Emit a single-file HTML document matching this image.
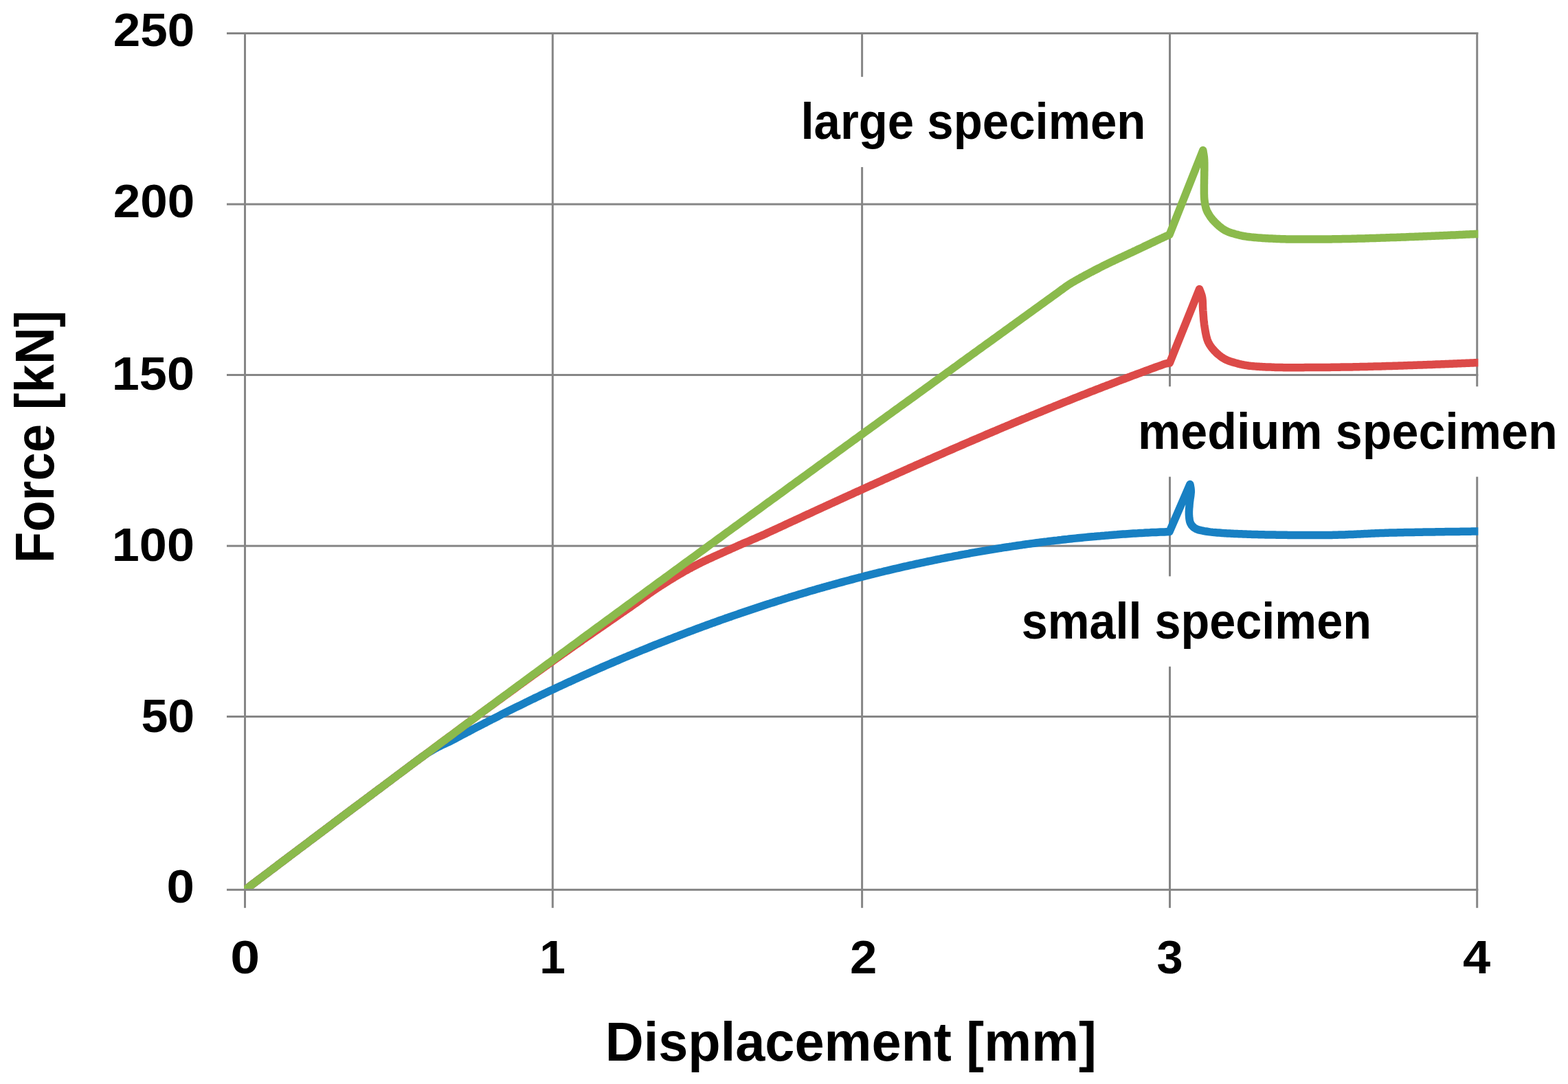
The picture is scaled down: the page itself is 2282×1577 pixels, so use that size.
<!DOCTYPE html><html><head><meta charset="utf-8"><title>Force-displacement chart</title><style>
html,body{margin:0;padding:0;background:#fff;}body{width:2282px;height:1577px;overflow:hidden;}
svg{display:block;}text{font-family:"Liberation Sans",Arial,sans-serif;font-weight:bold;fill:#000;}
</style></head><body>
<svg width="2282" height="1577" viewBox="0 0 2282 1577">
<rect x="0" y="0" width="2282" height="1577" fill="#fff"/>
<defs><clipPath id="pa"><rect x="355" y="40" width="1796.3" height="1253.0"/></clipPath></defs>
<g fill="#868686">
<rect x="330.0" y="47.00" width="1821.3" height="3.0"/>
<rect x="330.0" y="295.60" width="1821.3" height="3.0"/>
<rect x="330.0" y="544.00" width="1821.3" height="3.0"/>
<rect x="330.0" y="792.70" width="1821.3" height="3.0"/>
<rect x="330.0" y="1041.00" width="1821.3" height="3.0"/>
<rect x="330.0" y="1292.90" width="1821.3" height="3.0"/>
<rect x="355.00" y="47.0" width="3.0" height="1273.8"/>
<rect x="802.80" y="47.0" width="3.0" height="1273.8"/>
<rect x="1253.10" y="47.0" width="3.0" height="1273.8"/>
<rect x="1701.00" y="47.0" width="3.0" height="1273.8"/>
<rect x="2148.20" y="47.0" width="3.0" height="1273.8"/>
</g>
<rect x="1158.0" y="111.8" width="517.0" height="131.3" fill="#fff"/>
<rect x="1648.0" y="562.3" width="626.0" height="131.3" fill="#fff"/>
<rect x="1476.0" y="838.4" width="528.0" height="131.3" fill="#fff"/>
<g clip-path="url(#pa)" fill="none" stroke-width="11.5" stroke-linejoin="round" stroke-linecap="round">
<path d="M356.5 1294.7L359.5 1292.5L362.5 1290.2L365.5 1287.9L368.5 1285.6L371.5 1283.4L374.5 1281.1L377.5 1278.8L380.5 1276.6L383.5 1274.3L386.5 1272.0L389.5 1269.8L392.5 1267.5L395.5 1265.2L398.5 1263.0L401.5 1260.7L404.5 1258.4L407.5 1256.2L410.5 1253.9L413.5 1251.6L416.5 1249.4L419.5 1247.1L422.5 1244.8L425.5 1242.6L428.5 1240.3L431.5 1238.1L434.5 1235.8L437.5 1233.5L440.5 1231.3L443.5 1229.0L446.5 1226.8L449.5 1224.5L452.5 1222.2L455.5 1220.0L458.5 1217.7L461.5 1215.5L464.5 1213.2L467.5 1211.0L470.5 1208.7L473.5 1206.5L476.5 1204.2L479.5 1202.0L482.5 1199.7L485.5 1197.4L488.5 1195.2L491.5 1192.9L494.5 1190.7L497.5 1188.4L500.5 1186.2L503.5 1183.9L506.5 1181.7L509.5 1179.4L512.5 1177.2L515.5 1174.9L518.5 1172.7L521.5 1170.5L524.5 1168.2L527.5 1166.0L530.5 1163.7L533.5 1161.5L536.5 1159.2L539.5 1157.0L542.5 1154.7L545.5 1152.5L548.5 1150.2L551.5 1148.0L554.5 1145.8L557.5 1143.5L560.5 1141.3L563.5 1139.0L566.5 1136.8L569.5 1134.6L572.5 1132.3L575.5 1130.1L578.5 1127.8L581.5 1125.6L584.5 1123.4L587.5 1121.1L590.5 1118.9L593.5 1116.7L596.5 1114.4L599.5 1112.2L602.5 1109.9L605.5 1107.7L608.5 1105.4L611.5 1103.2L614.5 1101.0L617.5 1098.9L620.5 1096.8L623.5 1094.8L626.5 1093.0L629.5 1091.2L632.5 1089.5L635.5 1087.9L638.5 1086.3L641.5 1084.8L644.5 1083.4L647.5 1082.0L650.5 1080.6L653.5 1079.2L656.5 1077.8L659.5 1076.2L662.5 1074.6L665.5 1073.0L668.5 1071.4L671.5 1069.8L674.5 1068.2L677.5 1066.6L680.5 1065.0L683.5 1063.5L686.5 1061.9L689.5 1060.3L692.5 1058.7L695.5 1057.2L698.5 1055.6L701.5 1054.1L704.5 1052.5L707.5 1051.0L710.5 1049.4L713.5 1047.9L716.5 1046.3L719.5 1044.8L722.5 1043.3L725.5 1041.8L728.5 1040.2L731.5 1038.7L734.5 1037.2L737.5 1035.7L740.5 1034.2L743.5 1032.7L746.5 1031.2L749.5 1029.7L752.5 1028.2L755.5 1026.8L758.5 1025.3L761.5 1023.8L764.5 1022.3L767.5 1020.9L770.5 1019.4L773.5 1017.9L776.5 1016.5L779.5 1015.0L782.5 1013.6L785.5 1012.2L788.5 1010.7L791.5 1009.3L794.5 1007.9L797.5 1006.4L800.5 1005.0L803.5 1003.6L806.5 1002.2L809.5 1000.8L812.5 999.4L815.5 998.0L818.5 996.6L821.5 995.2L824.5 993.8L827.5 992.4L830.5 991.1L833.5 989.7L836.5 988.3L839.5 987.0L842.5 985.6L845.5 984.2L848.5 982.9L851.5 981.5L854.5 980.2L857.5 978.9L860.5 977.5L863.5 976.2L866.5 974.9L869.5 973.5L872.5 972.2L875.5 970.9L878.5 969.6L881.5 968.3L884.5 967.0L887.5 965.7L890.5 964.4L893.5 963.1L896.5 961.8L899.5 960.6L902.5 959.3L905.5 958.0L908.5 956.7L911.5 955.5L914.5 954.2L917.5 953.0L920.5 951.7L923.5 950.5L926.5 949.2L929.5 948.0L932.5 946.7L935.5 945.5L938.5 944.3L941.5 943.1L944.5 941.9L947.5 940.6L950.5 939.4L953.5 938.2L956.5 937.0L959.5 935.8L962.5 934.6L965.5 933.5L968.5 932.3L971.5 931.1L974.5 929.9L977.5 928.8L980.5 927.6L983.5 926.4L986.5 925.3L989.5 924.1L992.5 923.0L995.5 921.8L998.5 920.7L1001.5 919.5L1004.5 918.4L1007.5 917.3L1010.5 916.2L1013.5 915.0L1016.5 913.9L1019.5 912.8L1022.5 911.7L1025.5 910.6L1028.5 909.5L1031.5 908.4L1034.5 907.3L1037.5 906.2L1040.5 905.2L1043.5 904.1L1046.5 903.0L1049.5 901.9L1052.5 900.9L1055.5 899.8L1058.5 898.8L1061.5 897.7L1064.5 896.7L1067.5 895.6L1070.5 894.6L1073.5 893.6L1076.5 892.5L1079.5 891.5L1082.5 890.5L1085.5 889.5L1088.5 888.5L1091.5 887.5L1094.5 886.5L1097.5 885.5L1100.5 884.5L1103.5 883.5L1106.5 882.5L1109.5 881.5L1112.5 880.5L1115.5 879.5L1118.5 878.6L1121.5 877.6L1124.5 876.7L1127.5 875.7L1130.5 874.7L1133.5 873.8L1136.5 872.9L1139.5 871.9L1142.5 871.0L1145.5 870.1L1148.5 869.1L1151.5 868.2L1154.5 867.3L1157.5 866.4L1160.5 865.5L1163.5 864.6L1166.5 863.7L1169.5 862.8L1172.5 861.9L1175.5 861.0L1178.5 860.1L1181.5 859.2L1184.5 858.4L1187.5 857.5L1190.5 856.6L1193.5 855.8L1196.5 854.9L1199.5 854.1L1202.5 853.2L1205.5 852.4L1208.5 851.5L1211.5 850.7L1214.5 849.9L1217.5 849.0L1220.5 848.2L1223.5 847.4L1226.5 846.6L1229.5 845.8L1232.5 845.0L1235.5 844.2L1238.5 843.4L1241.5 842.6L1244.5 841.8L1247.5 841.0L1250.5 840.2L1253.5 839.5L1256.5 838.7L1259.5 837.9L1262.5 837.2L1265.5 836.4L1268.5 835.7L1271.5 834.9L1274.5 834.2L1277.5 833.4L1280.5 832.7L1283.5 832.0L1286.5 831.2L1289.5 830.5L1292.5 829.8L1295.5 829.1L1298.5 828.4L1301.5 827.7L1304.5 827.0L1307.5 826.3L1310.5 825.6L1313.5 824.9L1316.5 824.2L1319.5 823.6L1322.5 822.9L1325.5 822.2L1328.5 821.6L1331.5 820.9L1334.5 820.2L1337.5 819.6L1340.5 818.9L1343.5 818.3L1346.5 817.7L1349.5 817.0L1352.5 816.4L1355.5 815.8L1358.5 815.2L1361.5 814.5L1364.5 813.9L1367.5 813.3L1370.5 812.7L1373.5 812.1L1376.5 811.5L1379.5 810.9L1382.5 810.3L1385.5 809.8L1388.5 809.2L1391.5 808.6L1394.5 808.1L1397.5 807.5L1400.5 806.9L1403.5 806.4L1406.5 805.8L1409.5 805.3L1412.5 804.7L1415.5 804.2L1418.5 803.7L1421.5 803.1L1424.5 802.6L1427.5 802.1L1430.5 801.6L1433.5 801.1L1436.5 800.6L1439.5 800.1L1442.5 799.6L1445.5 799.1L1448.5 798.6L1451.5 798.1L1454.5 797.6L1457.5 797.2L1460.5 796.7L1463.5 796.2L1466.5 795.8L1469.5 795.3L1472.5 794.9L1475.5 794.4L1478.5 794.0L1481.5 793.5L1484.5 793.1L1487.5 792.7L1490.5 792.2L1493.5 791.8L1496.5 791.4L1499.5 791.0L1502.5 790.6L1505.5 790.2L1508.5 789.8L1511.5 789.4L1514.5 789.0L1517.5 788.6L1520.5 788.2L1523.5 787.9L1526.5 787.5L1529.5 787.1L1532.5 786.8L1535.5 786.4L1538.5 786.1L1541.5 785.7L1544.5 785.4L1547.5 785.0L1550.5 784.7L1553.5 784.4L1556.5 784.0L1559.5 783.7L1562.5 783.4L1565.5 783.1L1568.5 782.8L1571.5 782.5L1574.5 782.2L1577.5 781.9L1580.5 781.6L1583.5 781.3L1586.5 781.0L1589.5 780.7L1592.5 780.5L1595.5 780.2L1598.5 779.9L1601.5 779.7L1604.5 779.4L1607.5 779.2L1610.5 778.9L1613.5 778.7L1616.5 778.4L1619.5 778.2L1622.5 778.0L1625.5 777.8L1628.5 777.5L1631.5 777.3L1634.5 777.1L1637.5 776.9L1640.5 776.7L1643.5 776.5L1646.5 776.3L1649.5 776.1L1652.5 775.9L1655.5 775.8L1658.5 775.6L1661.5 775.4L1664.5 775.3L1667.5 775.1L1670.5 774.9L1673.5 774.8L1676.5 774.6L1679.5 774.5L1682.5 774.4L1685.5 774.2L1688.5 774.1L1691.5 774.0L1694.5 773.9L1697.5 773.7L1702.0 773.5L1731.9 704.5L1732.3 706.8L1732.8 709.1L1733.1 711.4L1733.3 714.0L1733.3 715.7L1733.1 717.6L1732.9 719.6L1732.7 721.6L1732.4 723.7L1732.0 725.8L1731.8 727.9L1731.5 730.0L1731.3 732.0L1731.1 734.0L1731.0 736.1L1730.8 738.1L1730.6 740.2L1730.5 742.3L1730.4 744.3L1730.4 746.3L1730.4 748.2L1730.5 750.0L1730.7 752.2L1730.9 754.4L1731.2 756.4L1731.6 758.4L1732.2 760.3L1733.0 762.0L1734.3 764.1L1735.9 765.9L1737.8 767.6L1740.0 769.0L1741.8 769.9L1743.7 770.6L1745.8 771.2L1748.0 771.7L1750.3 772.1L1752.6 772.6L1755.0 773.0L1757.0 773.3L1759.0 773.6L1761.0 773.9L1763.1 774.1L1765.2 774.4L1767.3 774.6L1769.6 774.7L1771.9 774.9L1774.3 775.1L1776.8 775.3L1778.5 775.4L1780.3 775.6L1782.2 775.7L1784.1 775.8L1786.0 775.9L1788.0 776.0L1790.0 776.1L1792.1 776.2L1794.1 776.3L1796.3 776.4L1798.4 776.5L1800.5 776.6L1802.7 776.7L1804.9 776.8L1807.0 776.8L1809.2 776.9L1811.4 777.0L1813.6 777.1L1815.7 777.2L1817.9 777.2L1820.0 777.3L1822.0 777.4L1823.9 777.4L1825.9 777.5L1827.8 777.5L1829.8 777.6L1831.8 777.7L1833.7 777.7L1835.7 777.8L1837.6 777.8L1839.6 777.8L1841.6 777.9L1843.6 777.9L1845.6 778.0L1847.6 778.0L1849.6 778.0L1851.7 778.1L1853.7 778.1L1855.8 778.1L1857.9 778.2L1860.1 778.2L1862.2 778.2L1864.4 778.3L1866.6 778.3L1868.8 778.3L1870.6 778.3L1872.5 778.3L1874.4 778.4L1876.3 778.4L1878.3 778.4L1880.2 778.4L1882.2 778.4L1884.2 778.4L1886.2 778.5L1888.2 778.5L1890.2 778.5L1892.2 778.5L1894.3 778.5L1896.4 778.5L1898.4 778.5L1900.5 778.6L1902.6 778.6L1904.7 778.6L1906.8 778.6L1908.9 778.6L1911.0 778.6L1913.1 778.6L1915.3 778.6L1917.4 778.6L1919.5 778.6L1921.6 778.6L1923.7 778.5L1925.8 778.5L1927.9 778.5L1930.0 778.5L1932.1 778.5L1934.2 778.4L1936.3 778.4L1938.4 778.4L1940.4 778.3L1942.5 778.3L1944.5 778.3L1946.6 778.2L1948.6 778.1L1950.7 778.1L1952.8 778.0L1954.8 778.0L1956.9 777.9L1958.9 777.8L1961.0 777.7L1963.1 777.6L1965.1 777.6L1967.2 777.5L1969.3 777.4L1971.3 777.3L1973.4 777.2L1975.5 777.1L1977.5 777.0L1979.6 776.9L1981.6 776.8L1983.7 776.7L1985.7 776.6L1987.8 776.5L1989.8 776.4L1991.9 776.3L1993.9 776.2L1996.0 776.1L1998.0 776.0L2000.0 775.9L2002.0 775.8L2004.0 775.7L2006.1 775.7L2008.1 775.6L2010.1 775.5L2012.0 775.4L2014.0 775.4L2016.0 775.3L2018.1 775.2L2020.1 775.2L2022.2 775.1L2024.2 775.1L2026.2 775.0L2028.2 775.0L2030.2 774.9L2032.2 774.9L2034.2 774.8L2036.2 774.8L2038.2 774.7L2040.2 774.7L2042.1 774.7L2044.1 774.6L2046.1 774.6L2048.0 774.5L2050.0 774.5L2052.0 774.5L2053.9 774.4L2055.9 774.4L2057.9 774.4L2059.9 774.3L2061.9 774.3L2063.8 774.3L2065.8 774.2L2067.8 774.2L2069.8 774.2L2071.8 774.1L2073.9 774.1L2075.9 774.1L2077.9 774.0L2080.0 774.0L2081.9 774.0L2083.9 773.9L2085.9 773.9L2087.8 773.9L2089.8 773.8L2091.8 773.8L2093.7 773.8L2095.7 773.8L2097.7 773.7L2099.7 773.7L2101.7 773.7L2103.7 773.6L2105.7 773.6L2107.7 773.6L2109.7 773.6L2111.7 773.5L2113.7 773.5L2115.7 773.5L2117.8 773.4L2119.8 773.4L2121.8 773.4L2123.8 773.4L2125.8 773.3L2127.8 773.3L2129.9 773.3L2131.9 773.3L2133.9 773.2L2135.9 773.2L2137.9 773.2L2140.0 773.2L2142.0 773.1L2144.0 773.1L2146.0 773.1L2148.0 773.1L2150.0 773.0L2152.0 773.0" stroke="#1880C3"/>
<path d="M356.5 1294.7L359.5 1292.5L362.5 1290.2L365.5 1287.9L368.5 1285.6L371.5 1283.4L374.5 1281.1L377.5 1278.8L380.5 1276.6L383.5 1274.3L386.5 1272.0L389.5 1269.8L392.5 1267.5L395.5 1265.2L398.5 1263.0L401.5 1260.7L404.5 1258.4L407.5 1256.2L410.5 1253.9L413.5 1251.6L416.5 1249.4L419.5 1247.1L422.5 1244.8L425.5 1242.6L428.5 1240.3L431.5 1238.1L434.5 1235.8L437.5 1233.5L440.5 1231.3L443.5 1229.0L446.5 1226.8L449.5 1224.5L452.5 1222.2L455.5 1220.0L458.5 1217.7L461.5 1215.5L464.5 1213.2L467.5 1211.0L470.5 1208.7L473.5 1206.5L476.5 1204.2L479.5 1202.0L482.5 1199.7L485.5 1197.4L488.5 1195.2L491.5 1192.9L494.5 1190.7L497.5 1188.4L500.5 1186.2L503.5 1183.9L506.5 1181.7L509.5 1179.4L512.5 1177.2L515.5 1174.9L518.5 1172.7L521.5 1170.5L524.5 1168.2L527.5 1166.0L530.5 1163.7L533.5 1161.5L536.5 1159.2L539.5 1157.0L542.5 1154.7L545.5 1152.5L548.5 1150.2L551.5 1148.0L554.5 1145.8L557.5 1143.5L560.5 1141.3L563.5 1139.0L566.5 1136.8L569.5 1134.6L572.5 1132.3L575.5 1130.1L578.5 1127.8L581.5 1125.6L584.5 1123.4L587.5 1121.1L590.5 1118.9L593.5 1116.7L596.5 1114.4L599.5 1112.2L602.5 1109.9L605.5 1107.7L608.5 1105.5L611.5 1103.2L614.5 1101.0L617.5 1098.8L620.5 1096.5L623.5 1094.3L626.5 1092.1L629.5 1089.9L632.5 1087.6L635.5 1085.4L638.5 1083.2L641.5 1080.9L644.5 1078.7L647.5 1076.5L650.5 1074.2L653.5 1072.0L656.5 1069.8L659.5 1067.6L662.5 1065.3L665.5 1063.1L668.5 1060.9L671.5 1058.6L674.5 1056.4L677.5 1054.2L680.5 1052.0L683.5 1049.7L686.5 1047.5L689.5 1045.3L692.5 1043.1L695.5 1040.9L698.5 1038.6L700.0 1037.5L701.6 1036.3L703.3 1035.1L704.9 1033.9L706.6 1032.7L708.2 1031.5L709.9 1030.3L711.5 1029.1L713.2 1027.9L714.8 1026.7L716.5 1025.5L718.2 1024.3L719.8 1023.1L721.5 1021.9L723.2 1020.6L724.9 1019.4L726.5 1018.2L728.2 1017.0L729.9 1015.8L731.5 1014.6L733.2 1013.3L734.9 1012.1L736.5 1010.9L738.2 1009.7L739.9 1008.5L741.5 1007.3L743.2 1006.1L744.8 1004.9L746.5 1003.7L748.2 1002.5L749.8 1001.3L751.4 1000.1L753.1 998.9L754.7 997.7L756.3 996.5L758.0 995.3L759.6 994.1L761.2 993.0L762.8 991.8L764.4 990.6L766.0 989.5L767.6 988.3L769.2 987.2L770.7 986.1L772.3 984.9L773.9 983.8L775.4 982.7L776.9 981.6L778.5 980.5L780.0 979.4L781.8 978.1L783.6 976.8L785.3 975.6L787.1 974.3L788.9 973.0L790.6 971.7L792.4 970.5L794.2 969.2L795.9 968.0L797.7 966.7L799.4 965.5L801.1 964.2L802.9 963.0L804.6 961.8L806.3 960.5L808.0 959.3L809.7 958.1L811.4 956.9L813.1 955.7L814.8 954.5L816.4 953.3L818.1 952.2L819.7 951.0L821.4 949.9L823.0 948.7L824.6 947.6L826.2 946.4L827.8 945.3L829.4 944.2L830.9 943.1L832.5 942.0L834.0 940.9L835.5 939.8L837.0 938.8L838.5 937.7L840.0 936.7L841.9 935.4L843.7 934.1L845.5 932.9L847.2 931.6L848.9 930.4L850.6 929.2L852.3 928.1L854.0 926.9L855.6 925.8L857.2 924.7L858.9 923.5L860.5 922.4L862.1 921.3L863.7 920.2L865.3 919.1L866.9 918.0L868.6 916.8L870.2 915.7L871.9 914.5L873.6 913.4L875.3 912.2L877.0 911.0L878.6 909.9L880.2 908.8L881.8 907.7L883.5 906.5L885.1 905.4L886.7 904.3L888.4 903.1L890.1 902.0L891.7 900.8L893.4 899.7L895.1 898.5L896.8 897.4L898.4 896.2L900.1 895.1L901.8 893.9L903.5 892.7L905.1 891.6L906.8 890.4L908.5 889.3L910.2 888.1L911.8 887.0L913.5 885.8L915.1 884.7L916.8 883.6L918.4 882.4L920.0 881.3L921.7 880.1L923.4 878.9L925.1 877.7L926.8 876.5L928.5 875.3L930.2 874.1L931.8 872.9L933.5 871.7L935.1 870.5L936.8 869.3L938.5 868.1L940.1 867.0L941.8 865.8L943.4 864.6L945.1 863.4L946.8 862.2L948.5 861.1L950.2 859.9L951.9 858.7L953.7 857.5L955.4 856.3L957.2 855.2L959.0 854.0L960.6 852.9L962.3 851.9L963.9 850.8L965.6 849.8L967.3 848.7L969.0 847.6L970.7 846.6L972.4 845.5L974.1 844.4L975.8 843.4L977.5 842.3L979.3 841.3L981.0 840.2L982.8 839.1L984.5 838.1L986.3 837.0L988.1 836.0L989.8 834.9L991.6 833.9L993.4 832.9L995.2 831.8L997.0 830.8L998.8 829.8L1000.7 828.8L1002.5 827.8L1004.3 826.8L1006.2 825.8L1008.0 824.8L1009.8 823.9L1011.6 822.9L1013.4 822.0L1015.2 821.1L1017.0 820.2L1018.9 819.3L1020.7 818.3L1022.6 817.4L1024.4 816.5L1026.3 815.6L1028.2 814.7L1030.1 813.8L1032.0 812.9L1033.9 812.1L1035.8 811.2L1037.7 810.3L1039.6 809.4L1041.5 808.6L1043.4 807.7L1045.3 806.9L1047.2 806.0L1049.1 805.2L1051.0 804.3L1052.8 803.5L1054.7 802.7L1056.5 801.8L1058.3 801.0L1060.2 800.2L1062.0 799.4L1063.7 798.6L1065.5 797.8L1067.5 796.9L1069.5 796.0L1071.4 795.2L1073.4 794.3L1075.3 793.4L1077.2 792.6L1079.1 791.8L1081.0 790.9L1082.9 790.1L1084.8 789.3L1086.7 788.5L1088.6 787.7L1090.4 786.9L1092.3 786.1L1094.2 785.3L1096.0 784.5L1097.9 783.7L1099.7 782.9L1101.6 782.1L1103.5 781.3L1105.3 780.5L1107.2 779.7L1109.1 778.9L1111.0 778.1L1114.0 776.7L1117.0 775.3L1120.0 773.9L1123.0 772.5L1126.0 771.1L1129.0 769.8L1132.0 768.4L1135.0 767.0L1138.0 765.6L1141.0 764.2L1144.0 762.8L1147.0 761.4L1150.0 760.0L1153.0 758.6L1156.0 757.2L1159.0 755.9L1162.0 754.5L1165.0 753.1L1168.0 751.7L1171.0 750.3L1174.0 748.9L1177.0 747.6L1180.0 746.2L1183.0 744.8L1186.0 743.4L1189.0 742.0L1192.0 740.6L1195.0 739.3L1198.0 737.9L1201.0 736.5L1204.0 735.1L1207.0 733.8L1210.0 732.4L1213.0 731.0L1216.0 729.6L1219.0 728.3L1222.0 726.9L1225.0 725.5L1228.0 724.1L1231.0 722.8L1234.0 721.4L1237.0 720.0L1240.0 718.7L1243.0 717.3L1246.0 715.9L1249.0 714.6L1252.0 713.2L1255.0 711.9L1258.0 710.5L1261.0 709.1L1264.0 707.8L1267.0 706.4L1270.0 705.1L1273.0 703.7L1276.0 702.4L1279.0 701.0L1282.0 699.7L1285.0 698.3L1288.0 696.9L1291.0 695.6L1294.0 694.3L1297.0 692.9L1300.0 691.6L1303.0 690.2L1306.0 688.9L1309.0 687.5L1312.0 686.2L1315.0 684.9L1318.0 683.5L1321.0 682.2L1324.0 680.8L1327.0 679.5L1330.0 678.2L1333.0 676.8L1336.0 675.5L1339.0 674.2L1342.0 672.9L1345.0 671.5L1348.0 670.2L1351.0 668.9L1354.0 667.6L1357.0 666.2L1360.0 664.9L1363.0 663.6L1366.0 662.3L1369.0 661.0L1372.0 659.7L1375.0 658.3L1378.0 657.0L1381.0 655.7L1384.0 654.4L1387.0 653.1L1390.0 651.8L1393.0 650.5L1396.0 649.2L1399.0 647.9L1402.0 646.6L1405.0 645.3L1408.0 644.0L1411.0 642.7L1414.0 641.4L1417.0 640.1L1420.0 638.8L1423.0 637.6L1426.0 636.3L1429.0 635.0L1432.0 633.7L1435.0 632.4L1438.0 631.1L1441.0 629.9L1444.0 628.6L1447.0 627.3L1450.0 626.1L1453.0 624.8L1456.0 623.5L1459.0 622.2L1462.0 621.0L1465.0 619.7L1468.0 618.5L1471.0 617.2L1474.0 615.9L1477.0 614.7L1480.0 613.4L1483.0 612.2L1486.0 610.9L1489.0 609.7L1492.0 608.5L1495.0 607.2L1498.0 606.0L1501.0 604.7L1504.0 603.5L1507.0 602.3L1510.0 601.0L1513.0 599.8L1516.0 598.6L1519.0 597.3L1522.0 596.1L1525.0 594.9L1528.0 593.7L1531.0 592.5L1534.0 591.2L1537.0 590.0L1540.0 588.8L1543.0 587.6L1546.0 586.4L1549.0 585.2L1552.0 584.0L1555.0 582.8L1558.0 581.6L1561.0 580.4L1564.0 579.2L1567.0 578.0L1570.0 576.8L1573.0 575.6L1576.0 574.4L1579.0 573.3L1582.0 572.1L1585.0 570.9L1588.0 569.7L1591.0 568.6L1594.0 567.4L1597.0 566.2L1600.0 565.1L1603.0 563.9L1606.0 562.7L1609.0 561.6L1612.0 560.4L1615.0 559.3L1618.0 558.1L1621.0 557.0L1624.0 555.8L1627.0 554.7L1630.0 553.5L1633.0 552.4L1636.0 551.3L1639.0 550.1L1642.0 549.0L1645.0 547.9L1648.0 546.7L1651.0 545.6L1654.0 544.5L1657.0 543.4L1660.0 542.3L1663.0 541.2L1666.0 540.0L1669.0 538.9L1672.0 537.8L1675.0 536.7L1678.0 535.6L1681.0 534.5L1684.0 533.4L1687.0 532.4L1690.0 531.3L1693.0 530.2L1696.0 529.1L1702.3 528.0L1745.6 420.5L1746.3 422.4L1747.0 424.2L1747.7 426.0L1748.4 427.9L1749.0 429.9L1749.5 432.0L1749.8 433.8L1750.0 435.6L1750.2 437.5L1750.3 439.5L1750.4 441.5L1750.4 443.6L1750.5 445.7L1750.6 447.8L1750.7 449.9L1750.8 452.0L1751.0 453.9L1751.1 455.9L1751.3 457.9L1751.4 459.9L1751.6 461.9L1751.7 464.0L1751.9 466.0L1752.1 468.0L1752.4 470.1L1752.6 472.1L1752.9 474.0L1753.2 476.0L1753.5 478.0L1753.9 480.1L1754.2 482.1L1754.6 484.2L1755.0 486.2L1755.4 488.2L1755.9 490.2L1756.4 492.1L1757.0 494.0L1757.7 495.8L1758.4 497.5L1759.3 499.4L1760.4 501.3L1761.5 503.0L1762.6 504.7L1763.9 506.3L1765.2 507.9L1766.6 509.5L1768.0 511.0L1769.4 512.4L1770.9 513.9L1772.5 515.3L1774.1 516.6L1775.7 517.9L1777.4 519.2L1779.2 520.4L1780.9 521.5L1782.7 522.5L1784.5 523.4L1786.4 524.2L1788.3 525.0L1790.2 525.7L1792.2 526.3L1794.1 526.9L1796.1 527.4L1798.1 528.0L1800.0 528.5L1802.1 529.1L1804.1 529.6L1806.0 530.0L1808.0 530.5L1810.0 530.9L1812.2 531.3L1814.5 531.6L1817.0 532.0L1818.6 532.2L1820.3 532.4L1822.1 532.6L1823.9 532.7L1825.8 532.9L1827.8 533.1L1829.8 533.2L1831.9 533.3L1834.0 533.5L1836.1 533.6L1838.3 533.7L1840.4 533.8L1842.6 533.9L1844.8 534.0L1847.0 534.1L1849.2 534.1L1851.4 534.2L1853.6 534.3L1855.8 534.4L1857.9 534.4L1860.0 534.5L1862.0 534.6L1864.1 534.6L1866.1 534.6L1868.2 534.7L1870.2 534.7L1872.3 534.7L1874.3 534.7L1876.3 534.7L1878.4 534.8L1880.5 534.8L1882.5 534.7L1884.6 534.7L1886.7 534.7L1888.7 534.7L1890.8 534.7L1892.9 534.7L1895.0 534.7L1897.1 534.7L1899.3 534.6L1901.4 534.6L1903.5 534.6L1905.7 534.6L1907.6 534.6L1909.6 534.6L1911.5 534.6L1913.5 534.6L1915.5 534.5L1917.4 534.5L1919.4 534.5L1921.4 534.5L1923.4 534.5L1925.4 534.5L1927.4 534.4L1929.5 534.4L1931.5 534.4L1933.5 534.4L1935.6 534.4L1937.6 534.3L1939.6 534.3L1941.7 534.3L1943.7 534.3L1945.7 534.2L1947.8 534.2L1949.8 534.2L1951.9 534.1L1953.9 534.1L1955.9 534.1L1958.0 534.0L1960.0 534.0L1962.0 534.0L1964.0 533.9L1965.9 533.9L1967.9 533.9L1969.9 533.8L1971.9 533.8L1973.9 533.7L1975.8 533.7L1977.8 533.7L1979.8 533.6L1981.8 533.6L1983.7 533.5L1985.7 533.5L1987.7 533.4L1989.7 533.4L1991.7 533.3L1993.7 533.3L1995.7 533.2L1997.7 533.2L1999.7 533.1L2001.7 533.1L2003.7 533.0L2005.8 533.0L2007.8 532.9L2009.8 532.9L2011.9 532.8L2013.9 532.8L2016.0 532.7L2017.9 532.6L2019.9 532.6L2021.8 532.5L2023.8 532.5L2025.7 532.4L2027.7 532.3L2029.6 532.3L2031.6 532.2L2033.6 532.2L2035.6 532.1L2037.5 532.0L2039.5 532.0L2041.5 531.9L2043.5 531.8L2045.5 531.8L2047.5 531.7L2049.5 531.6L2051.5 531.5L2053.5 531.5L2055.5 531.4L2057.6 531.3L2059.6 531.3L2061.6 531.2L2063.6 531.1L2065.7 531.0L2067.7 531.0L2069.7 530.9L2071.8 530.8L2073.8 530.7L2075.9 530.7L2077.9 530.6L2080.0 530.5L2081.9 530.4L2083.9 530.4L2085.9 530.3L2087.8 530.2L2089.8 530.1L2091.8 530.1L2093.7 530.0L2095.7 529.9L2097.7 529.8L2099.7 529.7L2101.7 529.7L2103.7 529.6L2105.7 529.5L2107.7 529.4L2109.7 529.3L2111.7 529.3L2113.7 529.2L2115.7 529.1L2117.8 529.0L2119.8 528.9L2121.8 528.8L2123.8 528.8L2125.8 528.7L2127.8 528.6L2129.9 528.5L2131.9 528.4L2133.9 528.3L2135.9 528.3L2137.9 528.2L2140.0 528.1L2142.0 528.0L2144.0 527.9L2146.0 527.8L2148.0 527.8L2150.0 527.7L2152.0 527.6" stroke="#DC4A48"/>
<path d="M356.5 1294.7L359.5 1292.5L362.5 1290.2L365.5 1287.9L368.5 1285.6L371.5 1283.4L374.5 1281.1L377.5 1278.8L380.5 1276.6L383.5 1274.3L386.5 1272.0L389.5 1269.8L392.5 1267.5L395.5 1265.2L398.5 1263.0L401.5 1260.7L404.5 1258.4L407.5 1256.2L410.5 1253.9L413.5 1251.6L416.5 1249.4L419.5 1247.1L422.5 1244.8L425.5 1242.6L428.5 1240.3L431.5 1238.1L434.5 1235.8L437.5 1233.5L440.5 1231.3L443.5 1229.0L446.5 1226.8L449.5 1224.5L452.5 1222.2L455.5 1220.0L458.5 1217.7L461.5 1215.5L464.5 1213.2L467.5 1211.0L470.5 1208.7L473.5 1206.5L476.5 1204.2L479.5 1202.0L482.5 1199.7L485.5 1197.4L488.5 1195.2L491.5 1192.9L494.5 1190.7L497.5 1188.4L500.5 1186.2L503.5 1183.9L506.5 1181.7L509.5 1179.4L512.5 1177.2L515.5 1174.9L518.5 1172.7L521.5 1170.5L524.5 1168.2L527.5 1166.0L530.5 1163.7L533.5 1161.5L536.5 1159.2L539.5 1157.0L542.5 1154.7L545.5 1152.5L548.5 1150.2L551.5 1148.0L554.5 1145.8L557.5 1143.5L560.5 1141.3L563.5 1139.0L566.5 1136.8L569.5 1134.6L572.5 1132.3L575.5 1130.1L578.5 1127.8L581.5 1125.6L584.5 1123.4L587.5 1121.1L590.5 1118.9L593.5 1116.7L596.5 1114.4L599.5 1112.2L602.5 1109.9L605.5 1107.7L608.5 1105.5L611.5 1103.2L614.5 1101.0L617.5 1098.8L620.5 1096.5L623.5 1094.3L626.5 1092.1L629.5 1089.9L632.5 1087.6L635.5 1085.4L638.5 1083.2L641.5 1080.9L644.5 1078.7L647.5 1076.5L650.5 1074.2L653.5 1072.0L656.5 1069.8L659.5 1067.6L662.5 1065.3L665.5 1063.1L668.5 1060.9L671.5 1058.6L674.5 1056.4L677.5 1054.2L680.5 1052.0L683.5 1049.7L686.5 1047.5L689.5 1045.3L692.5 1043.1L695.5 1040.9L698.5 1038.6L701.5 1036.4L704.5 1034.2L707.5 1032.0L710.5 1029.7L713.5 1027.5L716.5 1025.3L719.5 1023.1L722.5 1020.9L725.5 1018.6L728.5 1016.4L731.5 1014.2L734.5 1012.0L737.5 1009.8L740.5 1007.6L743.5 1005.3L746.5 1003.1L749.5 1000.9L752.5 998.7L755.5 996.5L758.5 994.3L761.5 992.0L764.5 989.8L767.5 987.6L770.5 985.4L773.5 983.2L776.5 981.0L779.5 978.8L782.5 976.5L785.5 974.3L788.5 972.1L791.5 969.9L794.5 967.7L797.5 965.5L800.5 963.3L803.5 961.1L806.5 958.9L809.5 956.6L812.5 954.4L815.5 952.2L818.5 950.0L821.5 947.8L824.5 945.6L827.5 943.4L830.5 941.2L833.5 939.0L836.5 936.8L839.5 934.6L842.5 932.4L845.5 930.2L848.5 927.9L851.5 925.7L854.5 923.5L857.5 921.3L860.5 919.1L863.5 916.9L866.5 914.7L869.5 912.5L872.5 910.3L875.5 908.1L878.5 905.9L881.5 903.7L884.5 901.5L887.5 899.3L890.5 897.1L893.5 894.9L896.5 892.7L899.5 890.5L902.5 888.3L905.5 886.1L908.5 883.9L911.5 881.7L914.5 879.5L917.5 877.3L920.5 875.1L923.5 872.9L926.5 870.7L929.5 868.5L932.5 866.3L935.5 864.1L938.5 861.9L941.5 859.7L944.5 857.5L947.5 855.3L950.5 853.1L953.5 850.9L956.5 848.7L959.5 846.5L962.5 844.3L965.5 842.2L968.5 840.0L971.5 837.8L974.5 835.6L977.5 833.4L980.5 831.2L983.5 829.0L986.5 826.8L989.5 824.6L992.5 822.4L995.5 820.2L998.5 818.0L1001.5 815.8L1004.5 813.6L1007.5 811.5L1010.5 809.3L1013.5 807.1L1016.5 804.9L1019.5 802.7L1022.5 800.5L1025.5 798.3L1028.5 796.1L1031.5 793.9L1034.5 791.7L1037.5 789.6L1040.5 787.4L1043.5 785.2L1046.5 783.0L1049.5 780.8L1052.5 778.6L1055.5 776.4L1058.5 774.2L1061.5 772.1L1064.5 769.9L1067.5 767.7L1070.5 765.5L1073.5 763.3L1076.5 761.1L1079.5 758.9L1082.5 756.8L1085.5 754.6L1088.5 752.4L1091.5 750.2L1094.5 748.0L1097.5 745.8L1100.5 743.6L1103.5 741.5L1106.5 739.3L1109.5 737.1L1112.5 734.9L1115.5 732.7L1118.5 730.5L1121.5 728.4L1124.5 726.2L1127.5 724.0L1130.5 721.8L1133.5 719.6L1136.5 717.5L1139.5 715.3L1142.5 713.1L1145.5 710.9L1148.5 708.7L1151.5 706.5L1154.5 704.4L1157.5 702.2L1160.5 700.0L1163.5 697.8L1166.5 695.6L1169.5 693.5L1172.5 691.3L1175.5 689.1L1178.5 686.9L1181.5 684.8L1184.5 682.6L1187.5 680.4L1190.5 678.2L1193.5 676.0L1196.5 673.9L1199.5 671.7L1202.5 669.5L1205.5 667.3L1208.5 665.1L1211.5 663.0L1214.5 660.8L1217.5 658.6L1220.5 656.4L1223.5 654.3L1226.5 652.1L1229.5 649.9L1232.5 647.7L1235.5 645.6L1238.5 643.4L1241.5 641.2L1244.5 639.0L1247.5 636.9L1250.5 634.7L1253.5 632.5L1256.5 630.3L1259.5 628.1L1262.5 626.0L1265.5 623.8L1268.5 621.6L1271.5 619.5L1274.5 617.3L1277.5 615.1L1280.5 612.9L1283.5 610.8L1286.5 608.6L1289.5 606.4L1292.5 604.2L1295.5 602.1L1298.5 599.9L1301.5 597.7L1304.5 595.5L1307.5 593.4L1310.5 591.2L1313.5 589.0L1316.5 586.8L1319.5 584.7L1322.5 582.5L1325.5 580.3L1328.5 578.2L1331.5 576.0L1334.5 573.8L1337.5 571.6L1340.5 569.5L1343.5 567.3L1346.5 565.1L1349.5 563.0L1352.5 560.8L1355.5 558.6L1358.5 556.4L1361.5 554.3L1364.5 552.1L1367.5 549.9L1370.5 547.8L1373.5 545.6L1376.5 543.4L1379.5 541.2L1382.5 539.1L1385.5 536.9L1388.5 534.7L1391.5 532.6L1394.5 530.4L1397.5 528.2L1400.5 526.0L1403.5 523.9L1406.5 521.7L1409.5 519.5L1412.5 517.4L1415.5 515.2L1418.5 513.0L1421.5 510.9L1424.5 508.7L1427.5 506.5L1430.5 504.4L1433.5 502.2L1436.5 500.0L1439.5 497.8L1442.5 495.7L1445.5 493.5L1448.5 491.3L1451.5 489.2L1454.5 487.0L1457.5 484.8L1460.5 482.7L1463.5 480.5L1466.5 478.3L1469.5 476.2L1472.5 474.0L1475.5 471.8L1478.5 469.6L1481.5 467.5L1484.5 465.3L1487.5 463.1L1490.5 461.0L1493.5 458.8L1496.5 456.6L1499.5 454.5L1502.5 452.3L1505.5 450.1L1508.5 448.0L1511.5 445.8L1514.5 443.6L1517.5 441.5L1520.5 439.3L1523.5 437.1L1526.5 435.0L1529.5 432.8L1532.5 430.6L1535.5 428.5L1538.5 426.3L1541.5 424.1L1544.5 421.9L1546.0 420.9L1547.7 419.6L1549.4 418.4L1551.0 417.2L1552.7 416.0L1554.7 414.6L1557.0 413.2L1558.2 412.4L1559.5 411.6L1560.9 410.8L1562.4 409.9L1564.0 409.0L1565.6 408.1L1567.3 407.1L1569.0 406.2L1570.8 405.2L1572.7 404.1L1574.5 403.1L1576.5 402.1L1578.4 401.0L1580.4 399.9L1582.4 398.9L1584.4 397.8L1586.4 396.7L1588.4 395.7L1590.4 394.6L1592.4 393.5L1594.4 392.5L1596.4 391.5L1598.4 390.5L1600.3 389.5L1602.2 388.5L1604.0 387.6L1605.7 386.7L1607.5 385.8L1609.3 385.0L1611.1 384.1L1612.9 383.2L1614.7 382.3L1616.5 381.4L1618.3 380.6L1620.2 379.7L1622.0 378.8L1623.9 378.0L1625.7 377.1L1627.5 376.2L1629.4 375.4L1631.2 374.5L1633.1 373.7L1634.9 372.8L1636.7 372.0L1638.6 371.1L1640.4 370.3L1642.2 369.4L1644.0 368.6L1645.8 367.7L1647.6 366.9L1649.4 366.1L1651.1 365.2L1652.9 364.4L1654.8 363.5L1656.8 362.5L1658.9 361.6L1661.0 360.6L1663.1 359.6L1665.3 358.5L1667.4 357.5L1669.6 356.5L1671.7 355.5L1673.9 354.5L1676.0 353.4L1678.1 352.5L1680.1 351.5L1682.1 350.6L1684.1 349.6L1685.9 348.8L1687.7 347.9L1689.4 347.1L1691.0 346.4L1692.5 345.7L1693.9 345.0L1695.2 344.5L1696.3 343.9L1697.3 343.5L1699.9 342.4L1702.0 341.5L1750.8 218.5L1751.1 220.6L1751.4 222.6L1751.8 224.7L1752.1 226.8L1752.4 229.2L1752.6 232.0L1752.7 233.4L1752.7 234.9L1752.8 236.5L1752.8 238.2L1752.8 240.1L1752.8 242.0L1752.8 244.1L1752.8 246.2L1752.8 248.3L1752.7 250.5L1752.7 252.8L1752.7 255.1L1752.6 257.4L1752.6 259.8L1752.5 262.1L1752.5 264.5L1752.5 266.8L1752.4 269.1L1752.4 271.4L1752.4 273.6L1752.4 275.8L1752.4 277.9L1752.4 279.9L1752.4 281.9L1752.5 283.7L1752.5 285.5L1752.6 287.1L1752.7 288.6L1752.8 290.0L1753.1 292.5L1753.4 294.8L1753.7 296.9L1754.1 298.8L1754.5 300.5L1754.9 302.3L1755.5 304.0L1756.2 306.0L1757.0 307.8L1757.9 309.5L1758.9 311.2L1760.0 313.0L1761.1 314.7L1762.3 316.4L1763.6 318.0L1764.9 319.7L1766.4 321.3L1768.0 323.0L1769.4 324.4L1770.8 325.8L1772.4 327.2L1774.0 328.7L1775.7 330.1L1777.4 331.4L1779.1 332.7L1780.9 333.9L1782.7 335.0L1784.5 335.9L1786.4 336.8L1788.3 337.6L1790.2 338.3L1792.1 338.9L1794.1 339.5L1796.1 340.1L1798.1 340.7L1800.0 341.2L1802.1 341.7L1804.0 342.2L1806.0 342.7L1808.0 343.1L1810.0 343.5L1812.2 343.8L1814.5 344.2L1817.0 344.5L1818.6 344.7L1820.3 344.9L1822.1 345.1L1823.9 345.3L1825.8 345.5L1827.8 345.6L1829.8 345.8L1831.9 345.9L1834.0 346.1L1836.1 346.2L1838.3 346.4L1840.4 346.5L1842.6 346.7L1844.8 346.8L1847.0 346.9L1849.2 347.0L1851.4 347.1L1853.6 347.2L1855.8 347.3L1857.9 347.4L1860.0 347.5L1862.0 347.6L1864.1 347.7L1866.1 347.7L1868.2 347.8L1870.2 347.8L1872.3 347.9L1874.3 347.9L1876.3 348.0L1878.4 348.0L1880.5 348.0L1882.5 348.0L1884.6 348.0L1886.7 348.1L1888.7 348.1L1890.8 348.1L1892.9 348.1L1895.0 348.1L1897.1 348.1L1899.3 348.1L1901.4 348.1L1903.5 348.1L1905.7 348.1L1907.6 348.1L1909.6 348.1L1911.5 348.1L1913.5 348.1L1915.5 348.1L1917.4 348.1L1919.4 348.1L1921.4 348.0L1923.4 348.0L1925.4 348.0L1927.4 348.0L1929.5 348.0L1931.5 348.0L1933.5 347.9L1935.6 347.9L1937.6 347.9L1939.6 347.8L1941.7 347.8L1943.7 347.8L1945.7 347.8L1947.8 347.7L1949.8 347.7L1951.9 347.7L1953.9 347.6L1955.9 347.6L1958.0 347.5L1960.0 347.5L1962.0 347.5L1964.0 347.4L1965.9 347.4L1967.9 347.3L1969.9 347.3L1971.9 347.2L1973.9 347.2L1975.8 347.1L1977.8 347.1L1979.8 347.0L1981.8 347.0L1983.7 346.9L1985.7 346.9L1987.7 346.8L1989.7 346.7L1991.7 346.7L1993.7 346.6L1995.7 346.6L1997.7 346.5L1999.7 346.4L2001.7 346.4L2003.7 346.3L2005.8 346.2L2007.8 346.2L2009.8 346.1L2011.9 346.0L2013.9 346.0L2016.0 345.9L2017.9 345.8L2019.9 345.8L2021.8 345.7L2023.8 345.6L2025.7 345.6L2027.7 345.5L2029.6 345.4L2031.6 345.4L2033.6 345.3L2035.6 345.2L2037.5 345.2L2039.5 345.1L2041.5 345.0L2043.5 344.9L2045.5 344.9L2047.5 344.8L2049.5 344.7L2051.5 344.6L2053.5 344.6L2055.5 344.5L2057.6 344.4L2059.6 344.3L2061.6 344.2L2063.6 344.2L2065.7 344.1L2067.7 344.0L2069.7 343.9L2071.8 343.8L2073.8 343.8L2075.9 343.7L2077.9 343.6L2080.0 343.5L2081.9 343.4L2083.9 343.3L2085.9 343.3L2087.8 343.2L2089.8 343.1L2091.8 343.0L2093.7 342.9L2095.7 342.8L2097.7 342.7L2099.7 342.7L2101.7 342.6L2103.7 342.5L2105.7 342.4L2107.7 342.3L2109.7 342.2L2111.7 342.1L2113.7 342.0L2115.7 341.9L2117.8 341.9L2119.8 341.8L2121.8 341.7L2123.8 341.6L2125.8 341.5L2127.8 341.4L2129.9 341.3L2131.9 341.2L2133.9 341.1L2135.9 341.0L2137.9 340.9L2140.0 340.8L2142.0 340.8L2144.0 340.7L2146.0 340.6L2148.0 340.5L2150.0 340.4L2152.0 340.3" stroke="#8BBA4C"/>
</g>
<text x="164.8" y="67.4" font-size="68.5" textLength="118.5" lengthAdjust="spacingAndGlyphs">250</text>
<text x="164.8" y="315.9" font-size="68.5" textLength="118.5" lengthAdjust="spacingAndGlyphs">200</text>
<text x="162.8" y="567.4" font-size="68.5" textLength="120.2" lengthAdjust="spacingAndGlyphs">150</text>
<text x="162.8" y="816.2" font-size="68.5" textLength="120.2" lengthAdjust="spacingAndGlyphs">100</text>
<text x="205.4" y="1064.5" font-size="68.5" textLength="77.8" lengthAdjust="spacingAndGlyphs">50</text>
<text x="242.4" y="1313.0" font-size="68.5" textLength="40.4" lengthAdjust="spacingAndGlyphs">0</text>
<text x="335.3" y="1415.6" font-size="68.5" textLength="42.9" lengthAdjust="spacingAndGlyphs">0</text>
<text x="785.2" y="1415.6" font-size="68.5" textLength="37.7" lengthAdjust="spacingAndGlyphs">1</text>
<text x="1236.9" y="1415.6" font-size="68.5" textLength="39.3" lengthAdjust="spacingAndGlyphs">2</text>
<text x="1683.5" y="1415.6" font-size="68.5" textLength="38.1" lengthAdjust="spacingAndGlyphs">3</text>
<text x="2129.0" y="1415.6" font-size="68.5" textLength="40.2" lengthAdjust="spacingAndGlyphs">4</text>
<text x="880.7" y="1543.3" font-size="80.0" textLength="715.2" lengthAdjust="spacingAndGlyphs">Displacement [mm]</text>
<text x="77.9" y="819.2" font-size="80.0" textLength="367.6" lengthAdjust="spacingAndGlyphs" transform="rotate(-90 77.9 819.2)">Force [kN]</text>
<text x="1165.4" y="201.8" font-size="74.0" textLength="502.1" lengthAdjust="spacingAndGlyphs">large specimen</text>
<text x="1656.1" y="652.8" font-size="74.0" textLength="610.6" lengthAdjust="spacingAndGlyphs">medium specimen</text>
<text x="1486.8" y="928.7" font-size="74.0" textLength="509.1" lengthAdjust="spacingAndGlyphs">small specimen</text>
</svg></body></html>
